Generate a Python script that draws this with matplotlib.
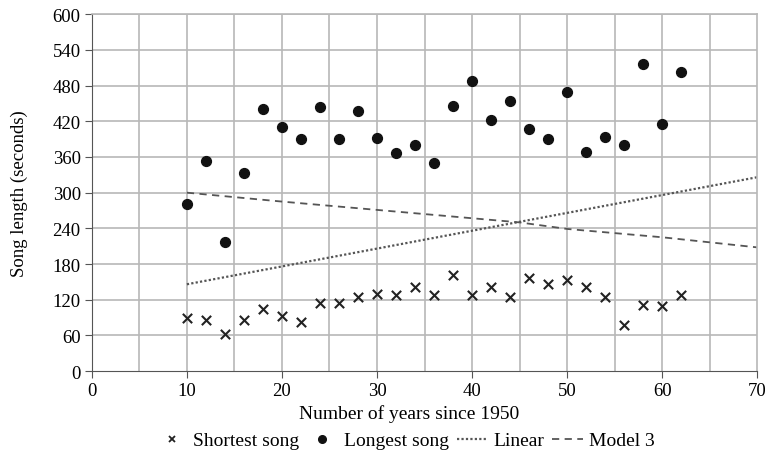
import numpy as np
import matplotlib.pyplot as plt
from matplotlib.lines import Line2D

plt.rcParams['font.family'] = ['Liberation Serif', 'DejaVu Serif']

# data
years = [10, 12, 14, 16, 18, 20, 22, 24, 26, 28, 30, 32, 34, 36, 38, 40,
         42, 44, 46, 48, 50, 52, 54, 56, 58, 60, 62]
longest = [281, 353, 217, 333, 440, 410, 390, 444, 390, 437, 392, 366, 380,
           350, 445, 487, 422, 454, 407, 390, 469, 368, 393, 380, 516, 415, 502]
shortest = [90, 86, 62, 86, 105, 93, 82, 115, 115, 124, 129, 128, 142, 128,
            162, 128, 141, 124, 156, 146, 153, 142, 124, 77, 111, 109, 128]

linear_x = [10, 70]
linear_y = [146, 326]
model_x = [10, 20, 45, 50, 60, 70]
model_y = [300, 285, 250, 239, 225, 208]

fig = plt.figure(figsize=(7.65, 4.6), dpi=100)
ax = fig.add_axes([0.120, 0.191, 0.870, 0.776])

grid_c = '#b8b8b8'
for gx in np.arange(5, 70, 5):
    ax.axvline(gx, color=grid_c, lw=1.2, zorder=0)
for gy in np.arange(60, 601, 60):
    ax.axhline(gy, color=grid_c, lw=1.2, zorder=0)

ax.scatter(years, shortest, marker='x', color='#222222', s=45, linewidths=1.5, zorder=3)
ax.scatter(years, longest, marker='o', color='#111111', s=50, zorder=3)
ax.plot(linear_x, linear_y, ls=(0, (1, 1)), color='#555555', lw=1.6, zorder=2)
ax.plot(model_x, model_y, ls=(0, (4, 3)), color='#555555', lw=1.3, zorder=2)

ax.set_xlim(0, 70)
ax.set_ylim(0, 600)
ax.set_xticks(np.arange(0, 71, 10))
ax.set_yticks(np.arange(0, 601, 60))
ax.tick_params(labelsize=13.5, color='#555555', length=5, pad=3)
for side in ['top', 'right']:
    ax.spines[side].set_color(grid_c)
    ax.spines[side].set_linewidth(1.2)
for side in ['left', 'bottom']:
    ax.spines[side].set_color('#555555')

ax.set_xlabel('Number of years since 1950', fontsize=14)
ax.xaxis.set_label_coords(0.477, -0.092)
ax.set_ylabel('Song length (seconds)', fontsize=13.5)
ax.yaxis.set_label_coords(-0.096, 0.5)

handles = [
    Line2D([], [], marker='x', color='#222222', ls='none', markersize=5, markeredgewidth=1.3),
    Line2D([], [], marker='o', color='#111111', ls='none', markersize=5.5),
    Line2D([], [], color='#555555', ls=(0, (1, 1)), lw=1.6),
    Line2D([], [], color='#555555', ls=(0, (4, 3)), lw=1.3),
]
fig.legend(handles, ['Shortest song', 'Longest song', 'Linear', 'Model 3'],
           loc='center', bbox_to_anchor=(0.530, 0.040), ncol=4, frameon=False,
           fontsize=14, handlelength=1.6, handletextpad=0.3, columnspacing=0.4,
           borderpad=0)

fig.savefig('out.png', dpi=100)
